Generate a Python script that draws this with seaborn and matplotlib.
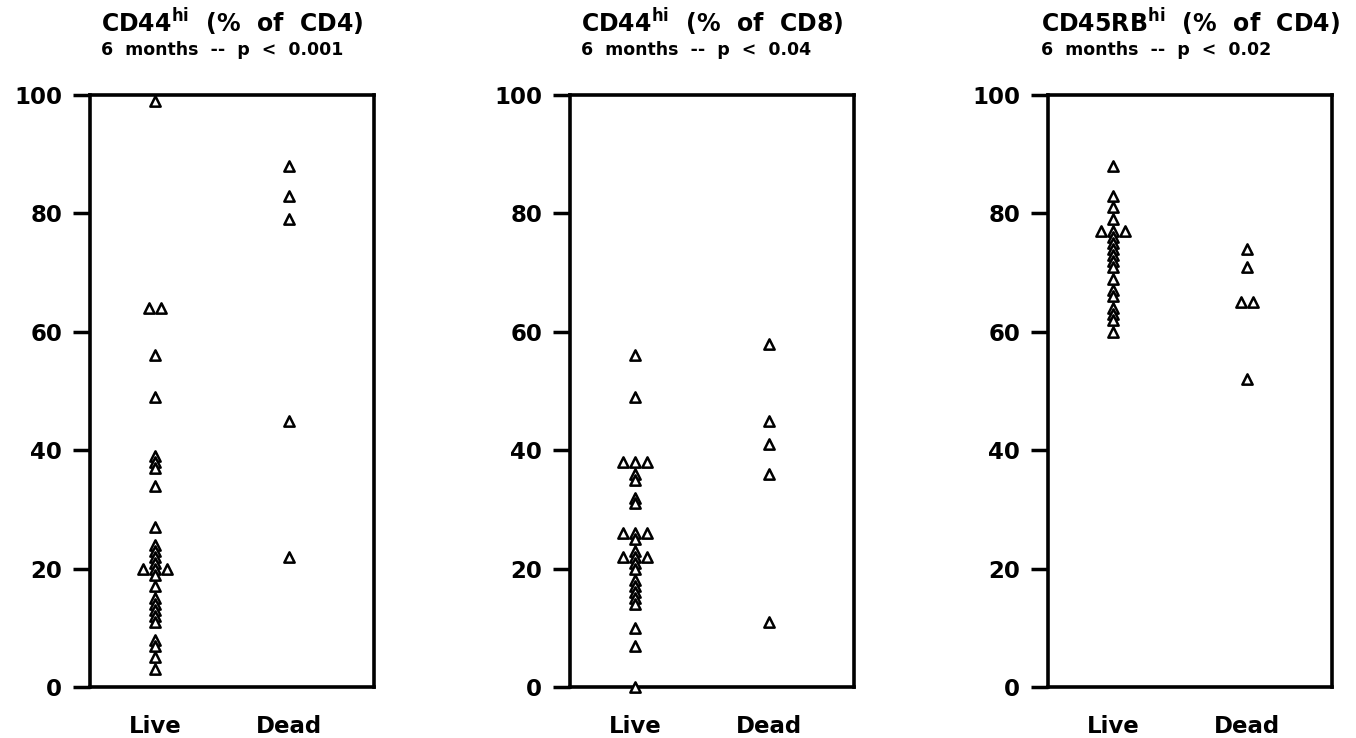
import numpy as np
import pandas as pd
import matplotlib
matplotlib.use("Agg")
import matplotlib.pyplot as plt
import seaborn as sns

groups = ["Live", "Dead"]

p1_live = [99, 64, 64, 56, 49, 39, 38, 37, 34, 27, 24, 23, 22, 21, 20, 20, 20, 19, 17, 15, 14, 13, 12, 11, 8, 7, 5, 3]
p1_dead = [88, 83, 79, 45, 22]

p2_live = [56, 49, 38, 38, 38, 36, 35, 32, 31, 26, 26, 26, 25, 23, 22, 22, 22, 21, 20, 18, 17, 16, 15, 14, 10, 7, 0]
p2_dead = [58, 45, 41, 36, 11]

p3_live = [88, 83, 81, 79, 77, 77, 77, 76, 75, 74, 73, 72, 71, 69, 67, 66, 64, 63, 62, 60]
p3_dead = [74, 71, 65, 65, 52]

titles = ["CD44$^{\\mathbf{hi}}$  (%  of  CD4)", "CD44$^{\\mathbf{hi}}$  (%  of  CD8)", "CD45RB$^{\\mathbf{hi}}$  (%  of  CD4)"]
subtitles = ["6  months  --  p  <  0.001", "6  months  --  p  <  0.04", "6  months  --  p  <  0.02"]
yticks = [0, 20, 40, 60, 80, 100]

sns.set_theme(style="white")
plt.rcParams["font.family"] = ["DejaVu Sans"]
plt.rcParams["font.weight"] = "bold"
plt.rcParams["mathtext.fontset"] = "dejavusans"

fig = plt.figure(figsize=(13.56, 7.38), dpi=100)
lefts = [90 / 1356, 570 / 1356, 1048 / 1356]
width = 284 / 1356
bottom = 1 - 687 / 738
height = (687 - 95) / 738
step = 0.09  # horizontal spacing between identical values (category units)


def build_frame(live, dead):
    rows = []
    for gi, (g, vals) in enumerate(zip(groups, [live, dead])):
        s = pd.Series(vals)
        counts = s.map(s.value_counts())
        rank = s.groupby(s).cumcount()
        off = (rank - (counts - 1) / 2) * step
        for v, o in zip(vals, off):
            rows.append({"group": g, "value": v, "xpos": gi + o})
    return pd.DataFrame(rows)


renderer = fig.canvas.get_renderer()
panels = [(p1_live, p1_dead), (p2_live, p2_dead), (p3_live, p3_dead)]
for i, (live, dead) in enumerate(panels):
    ax = fig.add_axes([lefts[i], bottom, width, height])
    df = build_frame(live, dead)
    sns.scatterplot(data=df, x="xpos", y="value", ax=ax, marker="^", s=55,
                    color="white", edgecolor="black", linewidth=1.8,
                    clip_on=False, legend=False, zorder=3)
    ax.set_xlim(-0.49, 1.64)
    ax.set_ylim(0, 100)
    ax.set_yticks(yticks)
    ax.set_yticklabels([str(t) for t in yticks], fontsize=16.5, fontweight="bold")
    ax.set_xticks([0, 1])
    ax.set_xticklabels(groups, fontsize=16.5, fontweight="bold")
    ax.tick_params(axis="y", left=True, length=12, width=2.5, pad=8, color="black",
                   labelcolor="black")
    ax.tick_params(axis="x", bottom=False, pad=14, labelcolor="black")
    ax.set_xlabel("")
    ax.set_ylabel("")
    for s in ax.spines.values():
        s.set_visible(True)
        s.set_color("black")
        s.set_linewidth(2.6)
    cx = ax.get_position().x0 + ax.get_position().width / 2
    t = fig.text(cx, 1 - 22 / 738, titles[i], ha="center", va="center",
                 fontsize=17, fontweight="bold", color="black")
    bb = t.get_window_extent(renderer=renderer)
    x0 = bb.x0 / fig.bbox.width
    fig.text(x0, 1 - 50 / 738, subtitles[i], ha="left", va="center",
             fontsize=12.5, fontweight="bold", color="black")

fig.savefig("out.png", dpi=100, facecolor="white")
